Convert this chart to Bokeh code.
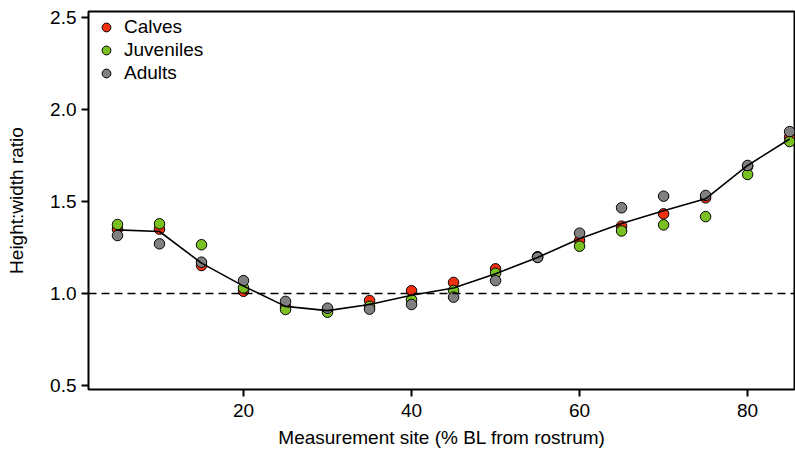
from bokeh.plotting import figure
from bokeh.models import Span, Legend, LegendItem, FixedTicker, ColumnDataSource
from bokeh.embed import file_html
from bokeh.resources import INLINE

sites = [5, 10, 15, 20, 25, 30, 35, 40, 45, 50, 55, 60, 65, 70, 75, 80, 85]
calves = [1.35, 1.35, 1.152, 1.012, 0.93, 0.91, 0.962, 1.015, 1.06, 1.134, 1.20, 1.288, 1.366, 1.433, 1.52, 1.69, 1.85]
juveniles = [1.375, 1.379, 1.265, 1.03, 0.913, 0.898, 0.93, 0.966, 1.016, 1.11, 1.196, 1.257, 1.34, 1.373, 1.418, 1.647, 1.826]
adults = [1.315, 1.27, 1.17, 1.07, 0.957, 0.92, 0.915, 0.94, 0.98, 1.07, 1.196, 1.328, 1.466, 1.529, 1.533, 1.696, 1.88]
mean_line = [1.346, 1.337, 1.165, 1.04, 0.93, 0.907, 0.94, 0.99, 1.03, 1.107, 1.196, 1.297, 1.38, 1.45, 1.515, 1.696, 1.84]

series_names = ["Calves", "Juveniles", "Adults"]
series_colors = ["#F0300F", "#7AC020", "#808080"]
y_ticks = [0.5, 1.0, 1.5, 2.0, 2.5]
x_ticks = [20, 40, 60, 80]

FONT = "Liberation Sans"
FS = "19px"

p = figure(width=795, height=453, output_backend="svg", toolbar_location=None,
           x_range=(1.55, 85.7), y_range=(0.478, 2.533),
           min_border_left=88, min_border_top=11, min_border_bottom=64, min_border_right=0)

p.xgrid.visible = False
p.ygrid.visible = False
p.outline_line_color = "black"
p.outline_line_width = 2
p.background_fill_color = "white"
p.border_fill_color = "white"

for ax in (p.xaxis[0], p.yaxis[0]):
    ax.axis_line_color = None
    ax.major_tick_line_color = "black"
    ax.major_tick_line_width = 2
    ax.major_tick_out = 7
    ax.major_tick_in = 0
    ax.minor_tick_line_color = None
    ax.major_label_text_font = FONT
    ax.major_label_text_font_size = FS
    ax.major_label_text_color = "black"
    ax.axis_label_text_font = FONT
    ax.axis_label_text_font_size = FS
    ax.axis_label_text_font_style = "normal"
    ax.axis_label_text_color = "black"

p.xaxis.ticker = FixedTicker(ticks=x_ticks)
p.yaxis.ticker = FixedTicker(ticks=y_ticks)
p.yaxis.major_label_overrides = {v: f"{v:.1f}" for v in y_ticks}
p.xaxis.major_label_standoff = 7
p.yaxis.major_label_standoff = 5
p.xaxis.axis_label = "Measurement site (% BL from rostrum)"
p.yaxis.axis_label = "Height:width ratio"
p.xaxis.axis_label_standoff = 7
p.yaxis.axis_label_standoff = 20

p.add_layout(Span(location=1.0, dimension="width", line_color="black",
                  line_width=1.5, line_dash="8 5"))

renderers = []
for name, vals, col in zip(series_names, [calves, juveniles, adults], series_colors):
    src = ColumnDataSource(dict(x=sites, y=vals))
    r = p.scatter("x", "y", source=src, size=10.5, fill_color=col, line_color="black", line_width=1)
    renderers.append(r)

p.line(sites, mean_line, line_color="black", line_width=1.6)

items = [LegendItem(label=n, renderers=[r]) for n, r in zip(series_names, renderers)]

legend = Legend(items=items, location="top_left", margin=5, padding=0,
                glyph_width=26, glyph_height=22, label_height=22, spacing=1,
                label_standoff=5, border_line_color=None, background_fill_alpha=0,
                label_text_font=FONT, label_text_font_size=FS, label_text_color="black")
p.add_layout(legend)

open("out.html", "w").write(file_html(p, INLINE))
